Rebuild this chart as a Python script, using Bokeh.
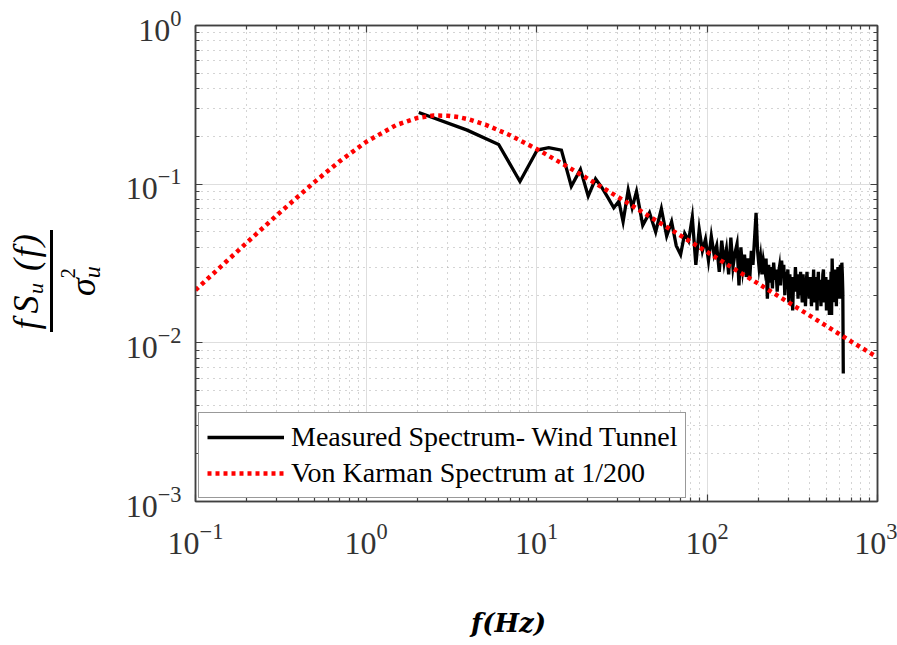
import math
from bokeh.plotting import figure
from bokeh.layouts import row, column
from bokeh.models import (LogAxis, FixedTicker, LogTickFormatter, CustomJSTickFormatter,
                          Legend, LegendItem, ColumnDataSource, Div)
from bokeh.embed import file_html
from bokeh.resources import INLINE

# ---------------- data ----------------
# Measured spectrum, low-frequency part
meas_freq_low = [2.04, 3.92, 6.0, 8.0, 10.1, 11.8, 14.0, 16.0, 18.1, 20.1, 22.2,
                 24.2, 26.3, 28.4, 30.4, 32.2, 34.5, 36.4, 38.6]
meas_val_low = [0.283, 0.219, 0.178, 0.104, 0.164, 0.170, 0.164, 0.097, 0.124, 0.084, 0.108,
                0.095, 0.082, 0.071, 0.078, 0.058, 0.092, 0.071, 0.090]
# Measured spectrum, high-frequency part (4 Hz resolution from 42 Hz)
meas_val_high = [
    0.055, 0.066, 0.050, 0.070, 0.047, 0.058, 0.041, 0.036, 0.049,
    0.044, 0.062, 0.031, 0.052, 0.038, 0.045, 0.033, 0.047, 0.036, 0.041,
    0.028, 0.044, 0.032, 0.039, 0.027, 0.046, 0.030, 0.037, 0.042, 0.023,
    0.040, 0.029, 0.036, 0.026, 0.034, 0.025, 0.038, 0.031, 0.045, 0.066,
    0.038, 0.030, 0.035, 0.027, 0.033, 0.029, 0.034, 0.019, 0.031, 0.024,
    0.030, 0.022, 0.032, 0.025, 0.029, 0.021, 0.027, 0.030, 0.023, 0.033,
    0.026, 0.031, 0.020, 0.028, 0.024, 0.029, 0.018, 0.027, 0.022, 0.026,
    0.016, 0.025, 0.021, 0.030, 0.023, 0.027, 0.019, 0.026, 0.020, 0.028,
    0.022, 0.018, 0.027, 0.021, 0.025, 0.017, 0.024, 0.028, 0.020, 0.023,
    0.019, 0.026, 0.022, 0.017, 0.025, 0.021, 0.029, 0.018, 0.024, 0.020,
    0.026, 0.016, 0.023, 0.028, 0.019, 0.025, 0.021, 0.017, 0.024, 0.020,
    0.027, 0.029, 0.018, 0.023, 0.019, 0.026, 0.016, 0.024, 0.021, 0.017,
    0.025, 0.015, 0.022, 0.019, 0.028, 0.015, 0.034, 0.024, 0.020, 0.026,
    0.018, 0.029, 0.021, 0.025, 0.017, 0.027, 0.022, 0.030, 0.019, 0.026,
    0.021, 0.028, 0.031, 0.019, 0.025, 0.032, 0.027, 0.021,
    0.0064,
]
meas_freq_high = list(range(42, 42 + 4 * len(meas_val_high), 4))

# Von Karman spectrum at 1/200 scale
vk_freq = [0.1, 0.15, 0.2, 0.3, 0.5, 0.7, 1.0, 1.5, 2.0, 2.5, 3.0, 3.5, 4.0, 5.0, 7.0,
           10, 15, 20, 30, 50, 70, 100, 150, 200, 300, 500, 700, 1000]
vk_val = [0.0215, 0.0322, 0.0428, 0.0637, 0.1034, 0.1393, 0.1845, 0.2355, 0.2615, 0.2707,
          0.2701, 0.2644, 0.2562, 0.2375, 0.2034, 0.1668, 0.1300, 0.1082, 0.0831, 0.0592,
          0.0474, 0.0374, 0.0285, 0.0236, 0.0180, 0.0128, 0.0102, 0.0081]

x_major = [0.1, 1, 10, 100, 1000]
y_major = [0.001, 0.01, 0.1, 1]

series_labels = ["Measured Spectrum- Wind Tunnel", "Von Karman Spectrum at 1/200"]
x_label = "f(Hz)"

# ---------------- figure ----------------
p = figure(width=797, height=590, x_axis_type="log", y_axis_type="log",
           x_range=(0.1, 1000), y_range=(0.001, 1),
           output_backend="svg", toolbar_location=None,
           min_border_left=95, min_border_right=20, min_border_top=25, min_border_bottom=89)
p.background_fill_color = "white"
p.border_fill_color = "white"
p.outline_line_color = "#404040"
p.outline_line_width = 1.5

def minors(majors):
    out = []
    for m in majors[:-1]:
        out += [m * k for k in range(2, 10)]
    return out

xt = FixedTicker(ticks=x_major, minor_ticks=minors(x_major))
yt = FixedTicker(ticks=y_major, minor_ticks=minors(y_major))

p.xaxis.ticker = xt
p.yaxis.ticker = yt
p.xgrid.ticker = xt
p.ygrid.ticker = yt
p.xaxis.formatter = LogTickFormatter()
p.yaxis.formatter = LogTickFormatter()

for g in (p.xgrid, p.ygrid):
    g.grid_line_color = "#dedede"
    g.grid_line_width = 1
    g.minor_grid_line_color = "#a8a8a8"
    g.minor_grid_line_width = 1
    g.minor_grid_line_dash = "1 5"

def style_axis(ax):
    ax.axis_line_color = "#404040"
    ax.axis_line_width = 1.5
    ax.major_tick_in = 7
    ax.major_tick_out = 0
    ax.minor_tick_in = 4
    ax.minor_tick_out = 0
    ax.major_tick_line_color = "#404040"
    ax.minor_tick_line_color = "#404040"
    ax.major_tick_line_width = 1.2
    ax.minor_tick_line_width = 1.2
    ax.major_label_text_font = "Liberation Serif"
    ax.major_label_text_font_size = "32px"
    ax.major_label_text_color = "#333333"

for ax in p.xaxis + p.yaxis:
    style_axis(ax)
p.xaxis.major_label_standoff = 22
p.yaxis.major_label_standoff = 14

# mirrored axes (box)
top = LogAxis(ticker=xt, formatter=CustomJSTickFormatter(code="return ''"))
right = LogAxis(ticker=yt, formatter=CustomJSTickFormatter(code="return ''"))
for ax in (top, right):
    style_axis(ax)
    ax.major_label_standoff = 0
    ax.major_label_text_font_size = "1px"
p.add_layout(top, "above")
p.add_layout(right, "right")

# ---------------- series ----------------
src_meas = ColumnDataSource(dict(f=meas_freq_low + meas_freq_high, v=meas_val_low + meas_val_high))
src_vk = ColumnDataSource(dict(f=vk_freq, v=vk_val))

r_meas = p.line("f", "v", source=src_meas, line_color="black", line_width=3.3, line_join="miter")
r_vk = p.line("f", "v", source=src_vk, line_color="#ff0000", line_width=4.5, line_dash="4 4")

legend = Legend(items=[LegendItem(label=series_labels[0], renderers=[r_meas]),
                       LegendItem(label=series_labels[1], renderers=[r_vk])],
                location="bottom_left")
legend.label_text_font = "Liberation Serif"
legend.label_text_font_size = "28px"
legend.label_text_color = "black"
legend.border_line_color = "#333333"
legend.border_line_width = 1.5
legend.background_fill_color = "white"
legend.background_fill_alpha = 1
legend.glyph_width = 77
legend.glyph_height = 30
legend.label_height = 30
legend.label_standoff = 7
legend.spacing = 4
legend.padding = 8
legend.margin = 3
p.add_layout(legend)

# ---------------- y axis title: fraction  f S_u (f) / sigma_u^2 ----------------
frac_html = (
    '<div style="position:relative;width:100px;height:590px;margin:0;padding:0;">'
    '<div style="position:absolute;left:-1px;top:241px;width:102px;height:80px;'
    'transform:rotate(-90deg);transform-origin:50% 50%;'
    "font-family:'Liberation Serif',serif;font-style:italic;color:black;\">"
    '<div style="height:40px;line-height:32px;font-size:36px;letter-spacing:1.5px;'
    'text-align:center;white-space:nowrap;">'
    'f&#8202;S<span style="font-size:22px;vertical-align:-5px;line-height:0;">u</span>&nbsp;(f)</div>'
    '<div style="height:3px;background:black;"></div>'
    '<div style="height:37px;line-height:37px;font-size:36px;text-align:center;white-space:nowrap;">'
    '&sigma;<span style="display:inline-block;vertical-align:-5px;line-height:20px;text-align:left;">'
    '<span style="font-size:20px;font-style:normal;">2</span><br>'
    '<span style="font-size:24px;">u</span></span></div>'
    '</div></div>'
)
ydiv = Div(text=frac_html, width=100, height=590, margin=0)

xlab_html = (
    '<div style="position:relative;width:897px;height:55px;margin:0;padding:0;">'
    '<div style="position:absolute;left:471px;top:18px;line-height:30px;'
    "font-family:'DejaVu Serif',serif;font-weight:bold;font-style:italic;font-size:26px;color:black;"
    'white-space:nowrap;">' + x_label + '</div></div>'
)
xdiv = Div(text=xlab_html, width=897, height=55, margin=0)

layout = column(row(ydiv, p, spacing=0), xdiv, spacing=0)

open("out.html", "w").write(file_html(layout, INLINE))
